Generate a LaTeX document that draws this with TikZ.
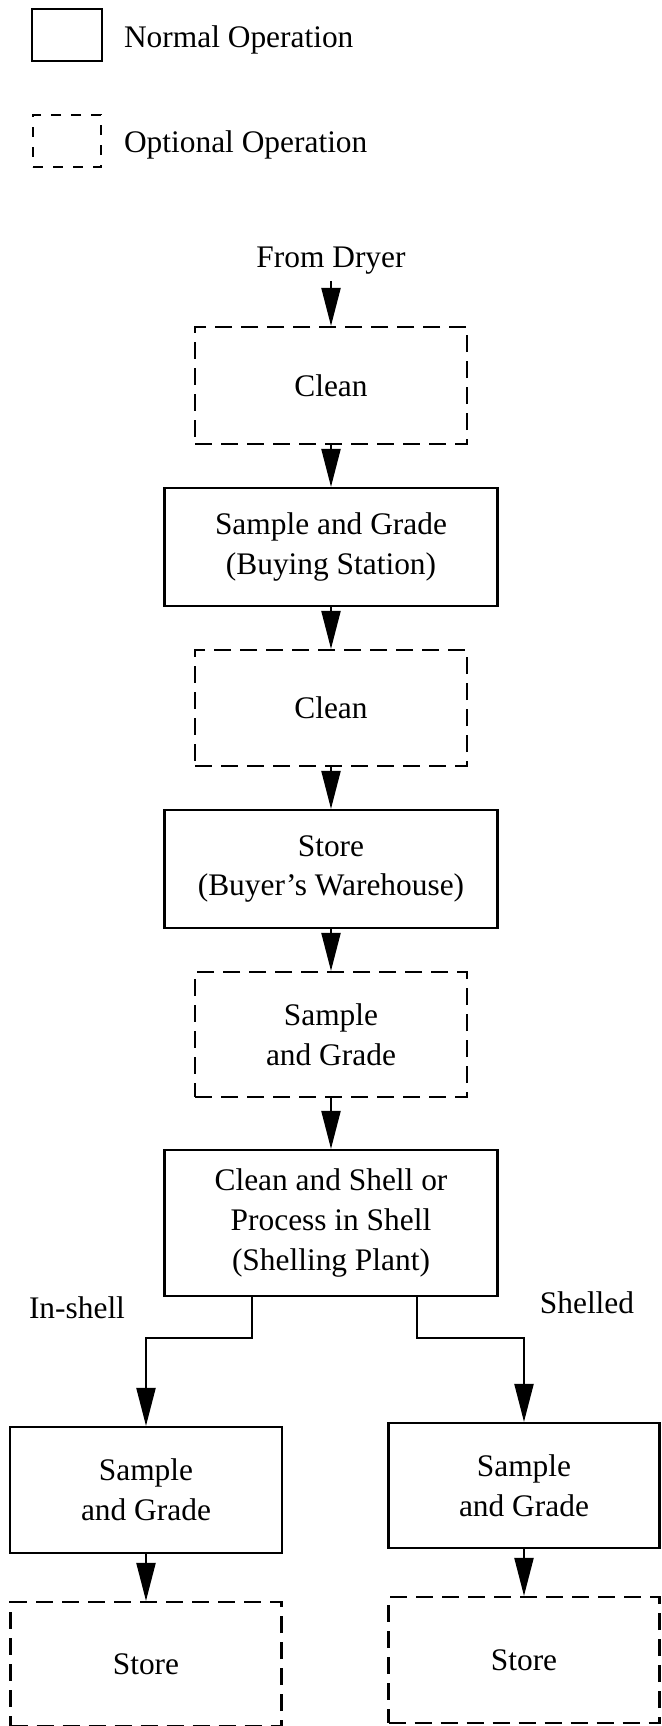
\documentclass[tikz,border=0pt]{standalone}
\usepackage{fontspec}
\setmainfont{Liberation Serif}
\usetikzlibrary{arrows.meta}

\begin{document}
\begin{tikzpicture}[x=0.5pt, y=-0.5pt,
    font=\fontsize{15.7}{19.8}\selectfont,
    >={Triangle[length=19pt, width=9.5pt]},
    normalop/.style={draw, line width=1.1pt, align=center, inner sep=0pt,
      minimum width=166.5pt, minimum height=59pt},
    optop/.style={normalop, dash pattern=on 8.5pt off 4.5pt,
      minimum width=136pt},
    flow/.style={->, line width=1.1pt}]
  \def\xc{331}      % main column
  \def\xl{146}      % in-shell column
  \def\xr{524}      % shelled column
  \useasboundingbox (0,0) rectangle (661,1726);

  % ----- legend -----
  \node[normalop, minimum width=35pt, minimum height=26pt] (keyN) at (67,35) {};
  \node[anchor=base west] (keyNtxt) at (117,47) {Normal Operation};
  \node[optop, minimum width=34pt, minimum height=26pt,
    dash pattern=on 5pt off 5pt] (keyO) at (67,141) {};
  \node[anchor=base west] (keyOtxt) at (117,152) {Optional Operation};

  % ----- main column -----
  \node[anchor=base] (dryer) at (\xc,267) {From Dryer};
  \node[optop, minimum height=58.5pt] (clean1) at (\xc,385.5) {Clean};
  \node[normalop] (buy) at (\xc,547) {Sample and Grade\\(Buying Station)};
  \node[optop, minimum height=58pt] (clean2) at (\xc,708) {Clean};
  \node[normalop] (whse) at (\xc,869) {Store\\(Buyer's Warehouse)};
  \node[optop, minimum height=62.5pt] (sg0) at (\xc,1034.5) {Sample\\and Grade};
  \node[normalop, minimum height=73pt] (shell) at (\xc,1223)
    {Clean and Shell or\\Process in Shell\\(Shelling Plant)};

  \draw[flow] (dryer) -- (clean1);
  \draw[flow] (clean1) -- (buy);
  \draw[flow] (buy) -- (clean2);
  \draw[flow] (clean2) -- (whse);
  \draw[flow] (whse) -- (sg0);
  \draw[flow] (sg0) -- (shell);

  % ----- branches -----
  \node[anchor=base] (inshell) at (77,1318) {In-shell};
  \node[anchor=base] (shelled) at (587,1313) {Shelled};
  \node[normalop, minimum width=136pt, minimum height=63pt] (sgL) at (\xl,1490)
    {Sample\\and Grade};
  \node[normalop, minimum width=135.5pt, minimum height=62.5pt] (sgR) at (\xr,1485.5)
    {Sample\\and Grade};
  \node[optop, minimum width=135.5pt, minimum height=62pt] (storeL) at (\xl,1664) {Store};
  \node[optop, minimum width=135.5pt, minimum height=63pt] (storeR) at (\xr,1660) {Store};

  \draw[flow] (shell.south) ++(-79,0) -- ++(0,41) -| (sgL);
  \draw[flow] (shell.south) ++(86,0) -- ++(0,41) -| (sgR);
  \draw[flow] (sgL) -- (storeL);
  \draw[flow] (sgR) -- (storeR);
\end{tikzpicture}
\end{document}
